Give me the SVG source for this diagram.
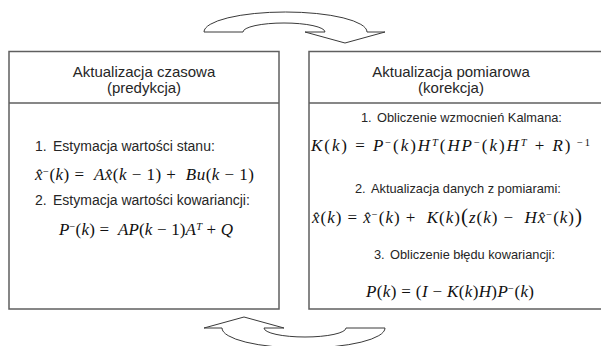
<svg xmlns="http://www.w3.org/2000/svg" width="601" height="346" viewBox="0 0 601 346">
<style>
.box{fill:#fff;stroke:#5f5f5f;stroke-width:1.5}
.div{stroke:#5f5f5f;stroke-width:1.5}
.arr{fill:#fff;stroke:#3a3a3a;stroke-width:1}
.t{font-family:"Liberation Sans",Arial,sans-serif;font-size:15px;fill:#262626;text-anchor:middle}
.l{font-family:"Liberation Sans",Arial,sans-serif;font-size:14px;fill:#262626;white-space:pre}
.r{font-family:"Liberation Sans",Arial,sans-serif;font-size:12.8px;fill:#262626;white-space:pre}
.f{font-family:"Liberation Serif","Times New Roman",serif;font-size:17px;fill:#111;white-space:pre}
.i{font-style:italic}
.s{font-size:10.5px}
</style>
<rect width="601" height="346" fill="#fff"/>
<g id="connectors">
<path class="arr" d="M204,32 A81.5,20 0 0 1 367,32 L385,32 L345,43 L305,32 L325,32 A41,9 0 0 0 243,32 Z"/>
<path class="arr" transform="rotate(180 294.5 180)" d="M204,32 A81.5,20 0 0 1 367,32 L385,32 L345,43 L305,32 L325,32 A41,9 0 0 0 243,32 Z"/>
</g>
<g id="node-time-update">
<rect class="box" x="9" y="51.5" width="270" height="257.5"/>
<line class="div" x1="9" y1="103" x2="279" y2="103"/>
<text class="t" x="144" y="77">Aktualizacja czasowa</text>
<text class="t" x="144" y="93">(predykcja)</text>
<text class="l" x="35" y="151">1.</text>
<text class="l" x="53" y="151">Estymacja wartości stanu:</text>
<text class="f" x="35" y="180" textLength="219"><tspan class="i">x̂</tspan><tspan class="s" baseline-shift="super">−</tspan>(<tspan class="i">k</tspan>) =  <tspan class="i">A</tspan><tspan class="i">x̂</tspan>(<tspan class="i">k</tspan> − 1) +  <tspan class="i">Bu</tspan>(<tspan class="i">k</tspan> − 1)</text>
<text class="l" x="35" y="205">2.</text>
<text class="l" x="53" y="205">Estymacja wartości kowariancji:</text>
<text class="f" x="59" y="235" textLength="174"><tspan class="i">P</tspan><tspan class="s" baseline-shift="super">−</tspan>(<tspan class="i">k</tspan>) =  <tspan class="i">AP</tspan>(<tspan class="i">k</tspan> − 1)<tspan class="i">A</tspan><tspan class="s i" baseline-shift="super">T</tspan> + <tspan class="i">Q</tspan></text>
</g>
<g id="node-measurement-update">
<rect class="box" x="309" y="51.5" width="310" height="257.5"/>
<line class="div" x1="309" y1="103" x2="601" y2="103"/>
<text class="t" x="451" y="77">Aktualizacja pomiarowa</text>
<text class="t" x="451" y="93">(korekcja)</text>
<text class="r" x="361" y="122">1.</text>
<text class="r" x="377" y="122">Obliczenie wzmocnień Kalmana:</text>
<text class="f" x="311" y="151" textLength="279"><tspan class="i">K</tspan>(<tspan class="i">k</tspan>) = <tspan class="i">P</tspan><tspan class="s" baseline-shift="super">−</tspan>(<tspan class="i">k</tspan>)<tspan class="i">H</tspan><tspan class="s i" baseline-shift="super">T</tspan>(<tspan class="i">HP</tspan><tspan class="s" baseline-shift="super">−</tspan>(<tspan class="i">k</tspan>)<tspan class="i">H</tspan><tspan class="s i" baseline-shift="super">T</tspan> + <tspan class="i">R</tspan>)<tspan class="s" baseline-shift="super"> −1</tspan></text>
<text class="r" x="355" y="193">2.</text>
<text class="r" x="371" y="193">Aktualizacja danych z pomiarami:</text>
<text class="f" x="312" y="223" textLength="270"><tspan class="i">x̂</tspan>(<tspan class="i">k</tspan>) = <tspan class="i">x̂</tspan><tspan class="s" baseline-shift="super">−</tspan>(<tspan class="i">k</tspan>) +  <tspan class="i">K</tspan>(<tspan class="i">k</tspan>)<tspan font-size="21px">(</tspan><tspan class="i">z</tspan>(<tspan class="i">k</tspan>) −  <tspan class="i">H</tspan><tspan class="i">x̂</tspan><tspan class="s" baseline-shift="super">−</tspan>(<tspan class="i">k</tspan>)<tspan font-size="21px">)</tspan></text>
<text class="r" x="374" y="259">3.</text>
<text class="r" x="390" y="259">Obliczenie błędu kowariancji:</text>
<text class="f" x="366" y="297" textLength="168"><tspan class="i">P</tspan>(<tspan class="i">k</tspan>) = (<tspan class="i">I</tspan> − <tspan class="i">K</tspan>(<tspan class="i">k</tspan>)<tspan class="i">H</tspan>)<tspan class="i">P</tspan><tspan class="s" baseline-shift="super">−</tspan>(<tspan class="i">k</tspan>)</text>
</g>
</svg>
